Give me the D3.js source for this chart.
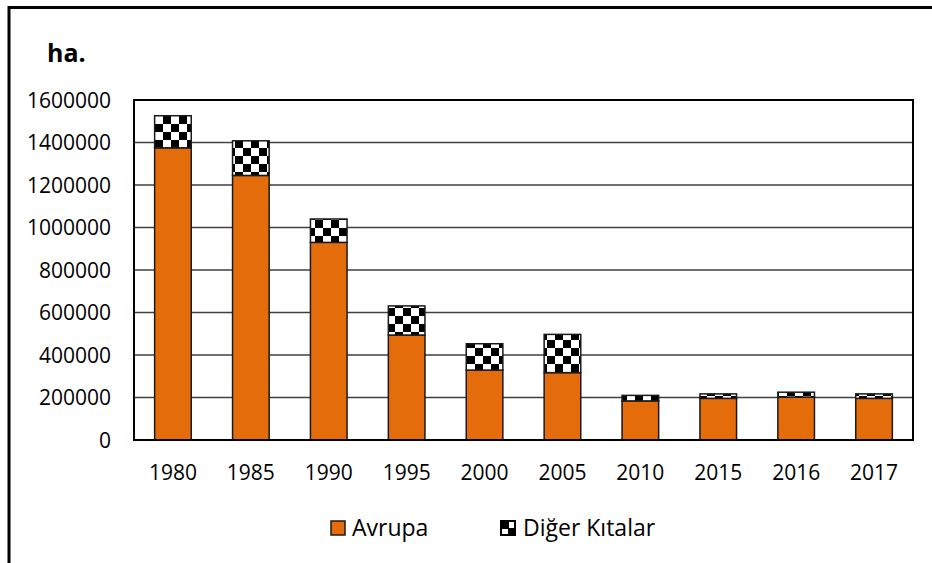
<!DOCTYPE html>
<html>
<head>
<meta charset="utf-8">
<script src="https://cdn.jsdelivr.net/npm/d3@7"></script>
<style>
  body { margin: 0; background: #ffffff; }
  text { font-family: "Open Sans", "DejaVu Sans", sans-serif; fill: #000; }
</style>
</head>
<body>
<div id="chart"></div>
<script>
var years = ["1980", "1985", "1990", "1995", "2000", "2005", "2010", "2015", "2016", "2017"];
var avrupa = [1375000, 1245000, 930000, 494000, 329000, 317000, 184000, 196000, 202000, 196000];
var diger = [151000, 163000, 110000, 137000, 124000, 180000, 26000, 21000, 23000, 21000];
var yTicks = [0, 200000, 400000, 600000, 800000, 1000000, 1200000, 1400000, 1600000];
var seriesNames = ["Avrupa", "Diğer Kıtalar"];

var svg = d3.select("#chart").append("svg").attr("width", 932).attr("height", 563);

// checker pattern for the second series
var defs = svg.append("defs");
var pat = defs.append("pattern").attr("id", "checker").attr("patternUnits", "userSpaceOnUse")
    .attr("width", 16).attr("height", 16).attr("x", 3).attr("y", 4);
pat.append("rect").attr("width", 16).attr("height", 16).attr("fill", "#ffffff");
pat.append("rect").attr("x", 0).attr("y", 0).attr("width", 8).attr("height", 8).attr("fill", "#000000");
pat.append("rect").attr("x", 8).attr("y", 8).attr("width", 8).attr("height", 8).attr("fill", "#000000");

// outer chart border (runs off the right and bottom)
svg.append("rect").attr("x", 9).attr("y", 7.5).attr("width", 940).attr("height", 580)
    .attr("fill", "none").attr("stroke", "#000").attr("stroke-width", 3);

var x = d3.scaleBand().domain(years).range([134, 913]).paddingInner(0.53).paddingOuter(0.265);
var y = d3.scaleLinear().domain([0, 1600000]).range([440, 100]);

// gridlines
svg.selectAll(".grid").data(yTicks.slice(1, -1)).enter().append("line")
    .attr("x1", 134).attr("x2", 913)
    .attr("y1", function(d){ return y(d); }).attr("y2", function(d){ return y(d); })
    .attr("stroke", "#404040").attr("stroke-width", 1.3);

var data = years.map(function(yr, i){
    return { year: yr, a: avrupa[i], d: diger[i] };
});

// Avrupa bars
svg.selectAll(".barA").data(data).enter().append("rect")
    .attr("x", function(d){ return x(d.year); })
    .attr("width", x.bandwidth())
    .attr("y", function(d){ return y(d.a); })
    .attr("height", function(d){ return y(0) - y(d.a); })
    .attr("fill", "#E46C0A").attr("stroke", "#1a1a1a").attr("stroke-width", 1.5);

// Diğer Kıtalar bars stacked on top
svg.selectAll(".barD").data(data).enter().append("rect")
    .attr("x", function(d){ return x(d.year); })
    .attr("width", x.bandwidth())
    .attr("y", function(d){ return y(d.a + d.d); })
    .attr("height", function(d){ return y(d.a) - y(d.a + d.d); })
    .attr("fill", "url(#checker)").attr("stroke", "#1a1a1a").attr("stroke-width", 1.5);

// plot frame
svg.append("rect").attr("x", 134).attr("y", 100).attr("width", 779).attr("height", 340)
    .attr("fill", "none").attr("stroke", "#000").attr("stroke-width", 2);

// y labels
svg.selectAll(".ylab").data(yTicks).enter().append("text")
    .attr("x", 111).attr("y", function(d){ return y(d); })
    .attr("dy", "0.36em").attr("text-anchor", "end").attr("font-size", 21)
    .text(function(d){ return d; });

// x labels
svg.selectAll(".xlab").data(years).enter().append("text")
    .attr("x", function(d){ return x(d) + x.bandwidth() / 2; }).attr("y", 472)
    .attr("dy", "0.36em").attr("text-anchor", "middle").attr("font-size", 21)
    .text(function(d){ return d; });

// unit
svg.append("text").attr("x", 47).attr("y", 62).attr("font-size", 25).attr("font-weight", "bold").text("ha.");

// legend
svg.append("rect").attr("x", 331).attr("y", 521).attr("width", 14).attr("height", 14)
    .attr("fill", "#E46C0A").attr("stroke", "#1a1a1a").attr("stroke-width", 1.5);
svg.append("text").attr("x", 352).attr("y", 528).attr("dy", "0.36em").attr("font-size", 23).text(seriesNames[0]);

var lg = svg.append("g").attr("transform", "translate(501,521)");
lg.append("rect").attr("width", 14).attr("height", 14).attr("fill", "#ffffff");
lg.append("rect").attr("x", 1).attr("y", 1).attr("width", 7).attr("height", 7).attr("fill", "#000");
lg.append("rect").attr("x", 7).attr("y", 7).attr("width", 6).attr("height", 6).attr("fill", "#000");
lg.append("rect").attr("width", 14).attr("height", 14).attr("fill", "none").attr("stroke", "#000").attr("stroke-width", 2);
svg.append("text").attr("x", 523).attr("y", 528).attr("dy", "0.36em").attr("font-size", 23).text(seriesNames[1]);
</script>
</body>
</html>
